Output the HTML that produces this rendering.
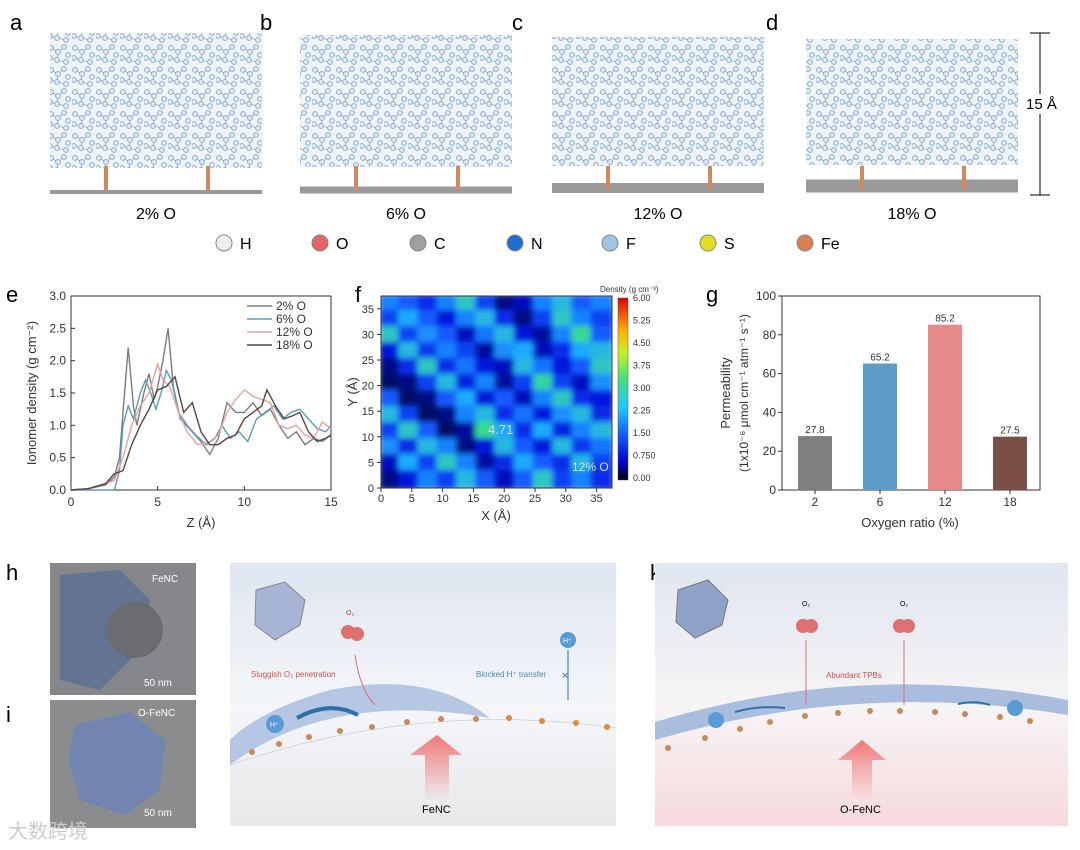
<!DOCTYPE html>
<html><head><meta charset="utf-8"><style>
body{margin:0;background:#fff}
svg{display:block;font-family:"Liberation Sans","Noto Sans CJK SC",sans-serif}
</style></head><body>
<svg id="fig" width="1080" height="850" viewBox="0 0 1080 850">
<defs>
<pattern id="ion" width="24" height="22" patternUnits="userSpaceOnUse">
<rect width="24" height="22" fill="#f1f4f7"/>
<path d="M3 4 L10 8 L16 3 M10 8 L9 16 L18 18 M2 14 L9 16" stroke="#9aa0a8" stroke-width="0.8" fill="none"/>
<circle cx="3" cy="4" r="2.4" fill="#dde9f5" stroke="#7fa8cf" stroke-width="0.9"/>
<circle cx="16" cy="3" r="2.4" fill="#dde9f5" stroke="#7fa8cf" stroke-width="0.9"/>
<circle cx="10" cy="8" r="2.4" fill="#dde9f5" stroke="#7fa8cf" stroke-width="0.9"/>
<circle cx="20" cy="11" r="2.4" fill="#dde9f5" stroke="#7fa8cf" stroke-width="0.9"/>
<circle cx="9" cy="16" r="2.4" fill="#dde9f5" stroke="#7fa8cf" stroke-width="0.9"/>
<circle cx="18" cy="18" r="2.4" fill="#dde9f5" stroke="#7fa8cf" stroke-width="0.9"/>
<circle cx="2" cy="14" r="2.4" fill="#dde9f5" stroke="#7fa8cf" stroke-width="0.9"/>
</pattern>
<linearGradient id="jbg" x1="0" y1="0" x2="0" y2="1"><stop offset="0" stop-color="#dfe6f1"/><stop offset="0.55" stop-color="#f4f6f9"/><stop offset="1" stop-color="#e8e8ea"/></linearGradient>
<linearGradient id="kbg" x1="0" y1="0" x2="0" y2="1"><stop offset="0" stop-color="#dfe6f1"/><stop offset="0.55" stop-color="#f7f4f5"/><stop offset="1" stop-color="#f6d9dc"/></linearGradient>
<linearGradient id="arr" x1="0" y1="0" x2="0" y2="1"><stop offset="0" stop-color="#f07878"/><stop offset="1" stop-color="#f07878" stop-opacity="0"/></linearGradient>
<filter id="blur"><feGaussianBlur stdDeviation="3"/></filter>
<linearGradient id="cbar" x1="0" y1="1" x2="0" y2="0">
<stop offset="0" stop-color="#000010"/><stop offset="0.1" stop-color="#0000d0"/><stop offset="0.25" stop-color="#1060ff"/><stop offset="0.4" stop-color="#20c8ff"/><stop offset="0.55" stop-color="#40e080"/><stop offset="0.7" stop-color="#c8f020"/><stop offset="0.82" stop-color="#ffb000"/><stop offset="1" stop-color="#e00000"/></linearGradient>
<clipPath id="hclip"><rect x="381" y="296" width="231" height="192"/></clipPath>
</defs>

<g id="snaps"></g>
<g id="atomLegend"></g>
<g id="chartE"></g>
<g id="chartF"></g>
<g id="chartG"></g>

<g>
<text x="6" y="580" font-size="22">h</text>
<rect x="50" y="563" width="146" height="132" fill="#85878a"/>
<path d="M60 575 L120 570 L150 600 L140 650 L100 690 L60 680 Z" fill="#5a6f94" opacity="0.8"/>
<ellipse cx="135" cy="630" rx="28" ry="28" fill="#6a6c70"/>
<text x="152" y="582" font-size="10" fill="#fff">FeNC</text>
<text x="144" y="686" font-size="10" fill="#fff">50 nm</text>
</g>
<g>
<text x="6" y="722" font-size="22">i</text>
<rect x="50" y="700" width="146" height="128" fill="#8a8c8e"/>
<path d="M75 725 L130 712 L165 740 L160 790 L125 815 L80 800 L68 760 Z" fill="#6c84b6" opacity="0.85"/>
<text x="138" y="716" font-size="10" fill="#fff">O-FeNC</text>
<text x="144" y="816" font-size="10" fill="#fff">50 nm</text>
</g>

<g>
<text x="232" y="580" font-size="22">j</text>
<rect x="230" y="563" width="386" height="263" fill="url(#jbg)"/>
<path d="M230 765 Q330 690 490 718 Q430 670 330 690 Q260 710 230 740 Z" fill="#a9bedf" opacity="0.85"/>
<path d="M230 765 Q420 700 616 728" stroke="#bbb" fill="none" stroke-width="0.5"/>
<g fill="#c98a5a">
<circle cx="252" cy="752" r="3"/><circle cx="279" cy="744" r="3"/><circle cx="309" cy="737" r="3"/><circle cx="340" cy="731" r="3"/><circle cx="372" cy="727" r="3"/><circle cx="407" cy="722" r="3"/><circle cx="441" cy="719" r="3"/><circle cx="476" cy="719" r="3"/>
<circle cx="509" cy="718" r="3" fill="#e08a3a"/><circle cx="542" cy="721" r="3" fill="#e08a3a"/><circle cx="576" cy="723" r="3" fill="#e08a3a"/><circle cx="607" cy="727" r="3" fill="#e08a3a"/></g>
<path d="M256 590 L285 582 L305 600 L300 625 L275 640 L255 625 Z" fill="#a8b4d6" stroke="#888" />
<circle cx="348" cy="632" r="7" fill="#e07070"/><circle cx="357" cy="634" r="7" fill="#e07070"/>
<text x="346" y="615" font-size="7" fill="#c04040">O₂</text>
<path d="M355 655 Q360 690 375 705" stroke="#e07070" fill="none"/>
<text x="251" y="677" font-size="8" fill="#d05050">Sluggish O₂ penetration</text>
<circle cx="275" cy="724" r="9" fill="#5b9bd5"/><text x="270" y="727" font-size="7" fill="#fff">H⁺</text>
<path d="M297 718 Q330 700 358 715" stroke="#2f6fa8" stroke-width="4" fill="none"/>
<circle cx="568" cy="640" r="8" fill="#5b9bd5"/><text x="563" y="643" font-size="7" fill="#fff">H⁺</text>
<path d="M568 650 L568 700" stroke="#2f6fa8"/><text x="562" y="679" font-size="11" fill="#2f6fa8">×</text>
<text x="476" y="677" font-size="8" fill="#4a8aa8">Blocked H⁺ transfer</text>
<path d="M425 800 L425 755 L410 755 L437 735 L462 755 L449 755 L449 800 Z" fill="url(#arr)"/>
<text x="422" y="813" font-size="11">FeNC</text>
</g>

<g>
<text x="650" y="580" font-size="22">k</text>
<rect x="655" y="563" width="413" height="263" fill="url(#kbg)"/>
<path d="M655 740 Q860 680 1068 715 L1068 700 Q860 660 655 722 Z" fill="#a9bedf"/>
<g fill="#c98a5a">
<circle cx="668" cy="748" r="3"/><circle cx="705" cy="738" r="3"/><circle cx="740" cy="729" r="3"/><circle cx="770" cy="722" r="3"/><circle cx="805" cy="716" r="3"/><circle cx="838" cy="713" r="3"/><circle cx="870" cy="711" r="3"/><circle cx="900" cy="711" r="3"/><circle cx="935" cy="712" r="3"/><circle cx="965" cy="714" r="3"/><circle cx="1000" cy="717" r="3"/><circle cx="1030" cy="721" r="3"/></g>
<path d="M678 590 L708 580 L728 600 L722 625 L695 638 L676 622 Z" fill="#8fa3c9" stroke="#777"/>
<circle cx="803" cy="626" r="7" fill="#e07070"/><circle cx="811" cy="626" r="7" fill="#e07070"/>
<circle cx="900" cy="626" r="7" fill="#e07070"/><circle cx="908" cy="626" r="7" fill="#e07070"/>
<text x="802" y="606" font-size="7">O₂</text><text x="900" y="606" font-size="7">O₂</text>
<path d="M806 640 L806 705 M904 640 L904 705" stroke="#e07070"/>
<text x="826" y="678" font-size="8" fill="#d05050">Abundant TPBs</text>
<circle cx="716" cy="720" r="8" fill="#5b9bd5"/><circle cx="1015" cy="708" r="8" fill="#5b9bd5"/>
<path d="M735 712 Q760 705 785 708 M990 705 Q975 700 958 704" stroke="#2f6fa8" stroke-width="2" fill="none"/>
<path d="M852 800 L852 760 L838 760 L862 740 L886 760 L872 760 L872 800 Z" fill="url(#arr)"/>
<text x="840" y="813" font-size="11">O-FeNC</text>
</g>
<text x="8" y="838" font-size="20" fill="#ccc">大数跨境</text>
</svg>
<script>
const NS='http://www.w3.org/2000/svg';
function mk(p,t,a,txt){const e=document.createElementNS(NS,t);for(const k in a)e.setAttribute(k,a[k]);if(txt!==undefined)e.textContent=txt;p.appendChild(e);return e;}

const snapLabels=['a','b','c','d'];
const snapTitles=['2% O','6% O','12% O','18% O'];
const snapX=[50,300,552,806];
const snapG=document.getElementById('snaps');
snapLabels.forEach((l,i)=>{
 const x0=snapX[i];
 const g=mk(snapG,'g',{});
 
 
 mk(g,'text',{x:x0-40,y:30,'font-size':22},l);
 mk(g,'rect',{x:x0,y:33+i*2,width:212,height:135-i*3,fill:'url(#ion)'});
 mk(g,'line',{x1:x0,y1:192-i*2,x2:x0+212,y2:192-i*2,stroke:'#9a9a9a','stroke-width':4+i*3});
 mk(g,'rect',{x:x0+54,y:166,width:4,height:24,fill:'#d08a60'});
 mk(g,'rect',{x:x0+156,y:166,width:4,height:24,fill:'#d08a60'});
 mk(g,'text',{x:x0+106,y:219,'font-size':16,'text-anchor':'middle'},snapTitles[i]);
});
mk(snapG,'path',{d:'M1030 33 H1050 M1040 33 V195 M1030 195 H1050',stroke:'#000',fill:'none'});
mk(snapG,'rect',{x:1024,y:94,width:44,height:20,fill:'#fff'});
mk(snapG,'text',{x:1026,y:109,'font-size':15},'15 Å');

const atoms=['H','O','C','N','F','S','Fe'];
const atomColors=['#eeeeee','#e06868','#a0a0a0','#1a6fd0','#9fc4e8','#e0e020','#d88050'];
const atomX=[224,320,418,515,610,708,805];
const lgG=document.getElementById('atomLegend');
atoms.forEach((a,i)=>{
 const c=mk(lgG,'circle',{cx:atomX[i],cy:243,r:8,fill:atomColors[i],stroke:'#888'});
 
 
 mk(lgG,'text',{x:atomX[i]+16,y:249,'font-size':16},a);
});

const eSeriesNames=['2% O','6% O','12% O','18% O'];
const eColors=['#7c7c7c','#5b9bc0','#e6a3a0','#5a4440'];
const x2=[0,1,1.5,2,2.5,2.8,3.0,3.3,3.6,3.8,4.2,4.5,4.8,5.0,5.3,5.6,5.9,6.3,7,7.5,8,8.5,9,9.5,10,10.5,11,11.5,12,12.5,13,13.5,14,14.5,15];
const y2=[0,0.02,0.05,0.08,0.2,0.5,1.2,2.2,1.3,1.0,1.5,1.8,1.4,1.6,2.0,2.5,1.6,1.1,0.9,0.75,0.55,0.8,1.35,1.2,1.2,1.35,1.15,1.25,1.0,0.8,0.9,0.7,0.8,0.75,0.85];
const x6=[0,2.5,2.8,3.0,3.3,3.6,4.0,4.3,4.6,4.9,5.2,5.5,5.8,6.2,6.7,7.2,7.8,8.3,8.7,9.2,9.7,10.2,10.7,11.2,11.7,12.2,12.7,13.2,13.7,14.2,14.7,15];
const y6=[0,0,0.3,1.0,1.3,1.1,1.5,1.7,1.5,1.25,1.5,1.85,1.7,1.2,1.0,0.85,0.7,0.8,1.0,0.8,0.9,0.75,1.1,1.2,1.3,1.1,1.2,1.25,1.1,0.95,0.9,1.0];
const x12=[0,1,2,2.5,3,3.5,4,4.5,5,5.3,5.7,6.2,6.7,7.3,8,8.5,9,9.5,10,10.5,11,11.5,12,12.5,13,13.5,14,14.5,15];
const y12=[0,0.02,0.1,0.15,0.5,1.0,1.3,1.5,1.95,1.7,1.6,1.2,0.9,0.7,0.75,0.85,1.2,1.4,1.55,1.45,1.4,1.35,1.0,0.95,1.0,0.85,0.8,1.05,0.95];
const x18=[0,1,2,2.5,3,3.5,4,4.5,5,5.5,6,6.5,7,7.5,8,8.5,9,9.5,10,10.5,11,11.3,11.8,12.3,12.8,13.2,13.7,14.2,14.7,15];
const y18=[0,0.02,0.1,0.25,0.3,0.7,1.0,1.25,1.55,1.6,1.75,1.2,1.35,0.9,0.7,0.7,0.8,0.85,1.1,1.2,1.3,1.55,1.3,1.1,1.15,1.2,0.9,0.75,0.8,0.85];
const eXTicks=[0,5,10,15];
const eYTicks=[0,0.5,1.0,1.5,2.0,2.5,3.0];
(function(){
 const g=document.getElementById('chartE');
 const ex=v=>71+v*260/15, ey=v=>490-v*194/3;
 mk(g,'text',{x:6,y:302,'font-size':22},'e');
 mk(g,'rect',{x:71,y:296,width:260,height:194,fill:'none',stroke:'#333'});
 eXTicks.forEach(t=>{mk(g,'line',{x1:ex(t),y1:490,x2:ex(t),y2:486,stroke:'#333'});mk(g,'text',{x:ex(t),y:506,'font-size':12,'text-anchor':'middle',fill:'#333'},t);});
 eYTicks.forEach(t=>{mk(g,'line',{x1:71,y1:ey(t),x2:75,y2:ey(t),stroke:'#333'});mk(g,'text',{x:66,y:ey(t)+4,'font-size':12,'text-anchor':'end',fill:'#333'},t.toFixed(1));});
 mk(g,'text',{x:201,y:527,'font-size':13,'text-anchor':'middle',fill:'#333'},'Z (Å)');
 mk(g,'text',{x:0,y:0,'font-size':13,'text-anchor':'middle',fill:'#333',transform:'translate(36,393) rotate(-90)'},'Ionomer density (g cm⁻²)');
 const xs=[x2,x6,x12,x18], ys=[y2,y6,y12,y18];
 xs.forEach((xa,s)=>{
  const d=xa.map((v,i)=>(i?'L':'M')+ex(v).toFixed(1)+' '+ey(ys[s][i]).toFixed(1)).join(' ');
  const p=mk(g,'path',{d:d,fill:'none',stroke:eColors[s],'stroke-width':1.4});
  
  
  mk(g,'line',{x1:247,y1:306+s*13,x2:272,y2:306+s*13,stroke:eColors[s],'stroke-width':1.4});
  mk(g,'text',{x:276,y:310+s*13,'font-size':12,fill:'#333'},eSeriesNames[s]);
 });
})();

const fGrid=[
[1.5,1.2,0.8,1.5,2.2,1.0,0.3,0.5,1.5,2.0,1.2,1.5],
[1.0,1.8,1.2,0.6,1.5,2.0,0.8,0.3,1.0,2.2,1.5,1.0],
[2.2,1.0,1.6,1.2,0.5,1.4,2.0,0.6,0.4,1.5,2.5,1.2],
[0.6,2.0,0.9,1.5,1.0,0.4,1.6,1.8,0.5,0.8,1.8,2.0],
[0.3,0.8,2.2,0.8,1.4,0.6,0.5,2.0,1.4,0.6,1.2,2.2],
[0.2,0.3,1.0,2.0,0.7,1.5,0.4,1.0,2.4,1.0,0.5,1.6],
[1.2,0.2,0.3,1.2,1.8,0.6,1.2,0.5,1.5,2.2,0.8,0.6],
[2.0,1.0,0.2,0.3,1.5,2.0,0.8,1.4,0.6,1.6,2.0,0.8],
[1.0,2.2,1.2,0.2,0.4,2.5,1.8,0.8,1.8,0.7,1.5,2.0],
[1.6,0.8,2.0,1.5,0.3,0.6,2.0,1.2,0.6,2.0,0.9,1.4],
[0.5,1.8,1.0,2.2,1.5,0.4,0.8,1.8,1.2,0.8,2.0,1.0],
[0.3,0.6,1.5,1.0,2.0,1.2,0.5,1.2,2.2,1.0,1.5,0.8]];
const fXTicks=[0,5,10,15,20,25,30,35];
const fYTicks=[0,5,10,15,20,25,30,35];
const fCbarTicks=['6.00','5.25','4.50','3.75','3.00','2.25','1.50','0.750','0.00'];
(function(){
 const g=document.getElementById('chartF');
 const fx=v=>381+v*231/37.5, fy=v=>488-v*192/37.5;
 const stops=[[0,[0,0,40]],[0.6,[0,20,220]],[1.2,[20,90,255]],[1.8,[30,170,255]],[2.6,[60,225,130]],[3.8,[200,240,30]],[4.8,[255,170,0]],[6,[225,0,0]]];
 function col(v){for(let i=1;i<stops.length;i++){if(v<=stops[i][0]){const a=stops[i-1],b=stops[i],t=(v-a[0])/(b[0]-a[0]);return 'rgb('+a[1].map((c,k)=>Math.round(c+(b[1][k]-c)*t)).join(',')+')';}}return 'rgb(225,0,0)';}
 mk(g,'text',{x:355,y:302,'font-size':22},'f');
 const hg=mk(g,'g',{'clip-path':'url(#hclip)'});
 const ig=mk(hg,'g',{filter:'url(#blur)'});
 const n=fGrid.length, cw=37.5/n;
 fGrid.forEach((row,r)=>row.forEach((v,c)=>{
  const cell=mk(ig,'rect',{x:fx(c*cw)-2,y:fy(37.5-r*cw)-2,width:231/n+4,height:192/n+4,fill:col(v)});
  
  
 }));
 mk(g,'rect',{x:381,y:296,width:231,height:192,fill:'none',stroke:'#333'});
 fXTicks.forEach(t=>{mk(g,'line',{x1:fx(t),y1:488,x2:fx(t),y2:492,stroke:'#333'});mk(g,'text',{x:fx(t),y:502,'font-size':11,'text-anchor':'middle',fill:'#333'},t);});
 fYTicks.forEach(t=>{mk(g,'line',{x1:377,y1:fy(t),x2:381,y2:fy(t),stroke:'#333'});mk(g,'text',{x:374,y:fy(t)+4,'font-size':11,'text-anchor':'end',fill:'#333'},t);});
 mk(g,'text',{x:496,y:520,'font-size':13,'text-anchor':'middle',fill:'#333'},'X (Å)');
 mk(g,'text',{x:0,y:0,'font-size':13,'text-anchor':'middle',fill:'#333',transform:'translate(357,392) rotate(-90)'},'Y (Å)');
 mk(g,'text',{x:488,y:434,'font-size':13,fill:'#ddd'},'4.71');
 mk(g,'text',{x:572,y:471,'font-size':12,fill:'#ddd'},'12% O');
 const cb=mk(g,'rect',{x:618,y:298,width:10,height:182,fill:'url(#cbar)',stroke:'#555','stroke-width':0.5});
 
 
 mk(g,'text',{x:600,y:292,'font-size':8,fill:'#333'},'Density (g cm⁻³)');
 fCbarTicks.forEach((t,i)=>mk(g,'text',{x:633,y:301+i*22.5,'font-size':9,fill:'#333'},t));
})();

const gCats=['2','6','12','18'];
const gVals=[27.8,65.2,85.2,27.5];
const gColors=['#7f7f7f','#5f9dc9','#e68a8a','#7b4f45'];
const gYTicks=[0,20,40,60,80,100];
(function(){
 const g=document.getElementById('chartG');
 const gx=i=>815+i*65, gy=v=>490-v*1.94;
 mk(g,'text',{x:706,y:302,'font-size':22},'g');
 mk(g,'rect',{x:782,y:296,width:258,height:194,fill:'none',stroke:'#333'});
 gYTicks.forEach(t=>{mk(g,'line',{x1:782,y1:gy(t),x2:778,y2:gy(t),stroke:'#333'});mk(g,'text',{x:776,y:gy(t)+4,'font-size':12,'text-anchor':'end',fill:'#333'},t);});
 gCats.forEach((c,i)=>{
  const b=mk(g,'rect',{x:gx(i)-17,y:gy(gVals[i]),width:34,height:gVals[i]*1.94,fill:gColors[i]});
  
  
  mk(g,'text',{x:gx(i),y:gy(gVals[i])-3,'font-size':10,'text-anchor':'middle',fill:'#333'},gVals[i].toFixed(1));
  mk(g,'line',{x1:gx(i),y1:490,x2:gx(i),y2:494,stroke:'#333'});
  mk(g,'text',{x:gx(i),y:506,'font-size':12,'text-anchor':'middle',fill:'#333'},c);
 });
 mk(g,'text',{x:910,y:527,'font-size':13,'text-anchor':'middle',fill:'#333'},'Oxygen ratio (%)');
 mk(g,'text',{x:0,y:0,'font-size':13,'text-anchor':'middle',fill:'#333',transform:'translate(730,393) rotate(-90)'},'Permeability');
 mk(g,'text',{x:0,y:0,'font-size':12,'text-anchor':'middle',fill:'#333',transform:'translate(748,393) rotate(-90)'},'(1x10⁻⁶ μmol cm⁻¹ atm⁻¹ s⁻¹)');
})();
</script>
</body></html>
